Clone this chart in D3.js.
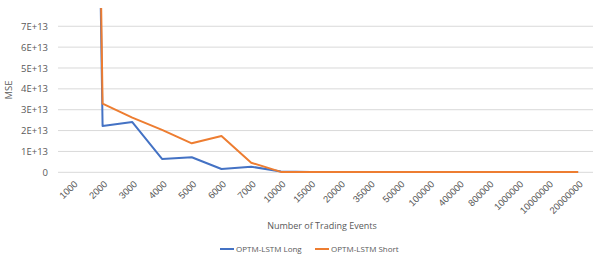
<!DOCTYPE html>
<html>
<head>
<meta charset="utf-8">
<script src="https://cdn.jsdelivr.net/npm/d3@7"></script>
<style>
  body { margin: 0; background: #fff; }
  svg { font-family: "Open Sans", "Liberation Sans", sans-serif; }
  .tick text { fill: #595959; }
</style>
</head>
<body>
<svg id="chart" width="598" height="260"></svg>
<script>
const events = ['1000', '2000', '3000', '4000', '5000', '6000', '7000', '10000', '15000', '20000',
  '35000', '50000', '100000', '400000', '800000', '1000000', '10000000', '20000000'];
// MSE values, first point runs far off the top of the chart
const longMse = [9.5e14, 2.22e13, 2.41e13, 0.64e13, 0.72e13, 0.16e13, 0.27e13, 0.04e13, 0.02e13, 0.01e13,
  0.01e13, 0.01e13, 0.01e13, 0.01e13, 0.01e13, 0.01e13, 0.01e13, 0.01e13];
const shortMse = [1e15, 3.29e13, 2.62e13, 2.03e13, 1.39e13, 1.74e13, 0.46e13, 0.02e13, 0.02e13, 0.01e13,
  0.01e13, 0.01e13, 0.01e13, 0.01e13, 0.01e13, 0.01e13, 0.01e13, 0.01e13];
const yTicks = [0, 1e13, 2e13, 3e13, 4e13, 5e13, 6e13, 7e13];
const yTickLabels = ['0', '1E+13', '2E+13', '3E+13', '4E+13', '5E+13', '6E+13', '7E+13'];
const seriesNames = ['OPTM-LSTM Long', 'OPTM-LSTM Short'];

const plotLeft = 58;
const plotRight = 593;
const plotTop = 8;
const plotBottom = 172.3;

const colors = d3.scaleOrdinal()
  .domain(seriesNames)
  .range(['#4472C4', '#ED7D31']);

const x = d3.scaleBand()
  .domain(events)
  .range([plotLeft, plotRight]);

const y = d3.scaleLinear()
  .domain([0, 8e13])
  .range([plotBottom, 5.4]);

const svg = d3.select('#chart');

svg.append('defs').append('clipPath')
  .attr('id', 'plot')
  .append('rect')
  .attr('x', plotLeft)
  .attr('y', plotTop)
  .attr('width', plotRight - plotLeft)
  .attr('height', plotBottom - plotTop + 2);

// gridlines
svg.append('g')
  .selectAll('line')
  .data(yTicks)
  .enter()
  .append('line')
  .attr('x1', plotLeft)
  .attr('x2', plotRight)
  .attr('y1', (d) => y(d))
  .attr('y2', (d) => y(d))
  .attr('stroke', '#D9D9D9')
  .attr('stroke-width', 1);

// y axis labels
const yAxis = svg.append('g')
  .attr('transform', `translate(${plotLeft}, 0)`)
  .call(d3.axisLeft(y).tickValues(yTicks).tickFormat((d, i) => yTickLabels[i]).tickSize(0).tickPadding(10));
yAxis.select('.domain').remove();
yAxis.selectAll('text').attr('font-size', 9.5).attr('font-family', '"Open Sans", sans-serif');

// x axis labels
const xAxis = svg.append('g')
  .attr('transform', `translate(0, ${plotBottom})`)
  .call(d3.axisBottom(x).tickSize(0));
xAxis.select('.domain').remove();
xAxis.selectAll('text')
  .attr('font-size', 9.5)
  .attr('text-anchor', 'end')
  .attr('y', 0)
  .attr('dy', '0.35em')
  .attr('transform', 'translate(3, 10) rotate(-45)');

const line = d3.line()
  .x((d, i) => x(events[i]) + x.bandwidth() / 2)
  .y((d) => y(d));

svg.append('g')
  .attr('clip-path', 'url(#plot)')
  .selectAll('path')
  .data([longMse, shortMse])
  .enter()
  .append('path')
  .attr('d', (d) => line(d))
  .attr('fill', 'none')
  .attr('stroke', (d, i) => colors(seriesNames[i]))
  .attr('stroke-width', 2)
  .attr('stroke-linejoin', 'round');

// axis titles
svg.append('text')
  .text('MSE')
  .attr('transform', 'translate(12, 90) rotate(-90)')
  .attr('text-anchor', 'middle')
  .attr('font-size', 9.5)
  .attr('fill', '#595959');

svg.append('text')
  .text('Number of Trading Events')
  .attr('x', 322)
  .attr('y', 229)
  .attr('text-anchor', 'middle')
  .attr('font-size', 9)
  .attr('fill', '#595959');

// legend
const legend = svg.append('g');
const legendX = [220, 315];

legend.selectAll('line')
  .data(seriesNames)
  .enter()
  .append('line')
  .attr('x1', (d, i) => legendX[i])
  .attr('x2', (d, i) => legendX[i] + 14)
  .attr('y1', 249)
  .attr('y2', 249)
  .attr('stroke', (d) => colors(d))
  .attr('stroke-width', 2);

legend.selectAll('text')
  .data(seriesNames)
  .enter()
  .append('text')
  .text((d) => d)
  .attr('x', (d, i) => legendX[i] + 16)
  .attr('y', 252)
  .attr('font-size', 8)
  .attr('fill', '#595959');
</script>
</body>
</html>
